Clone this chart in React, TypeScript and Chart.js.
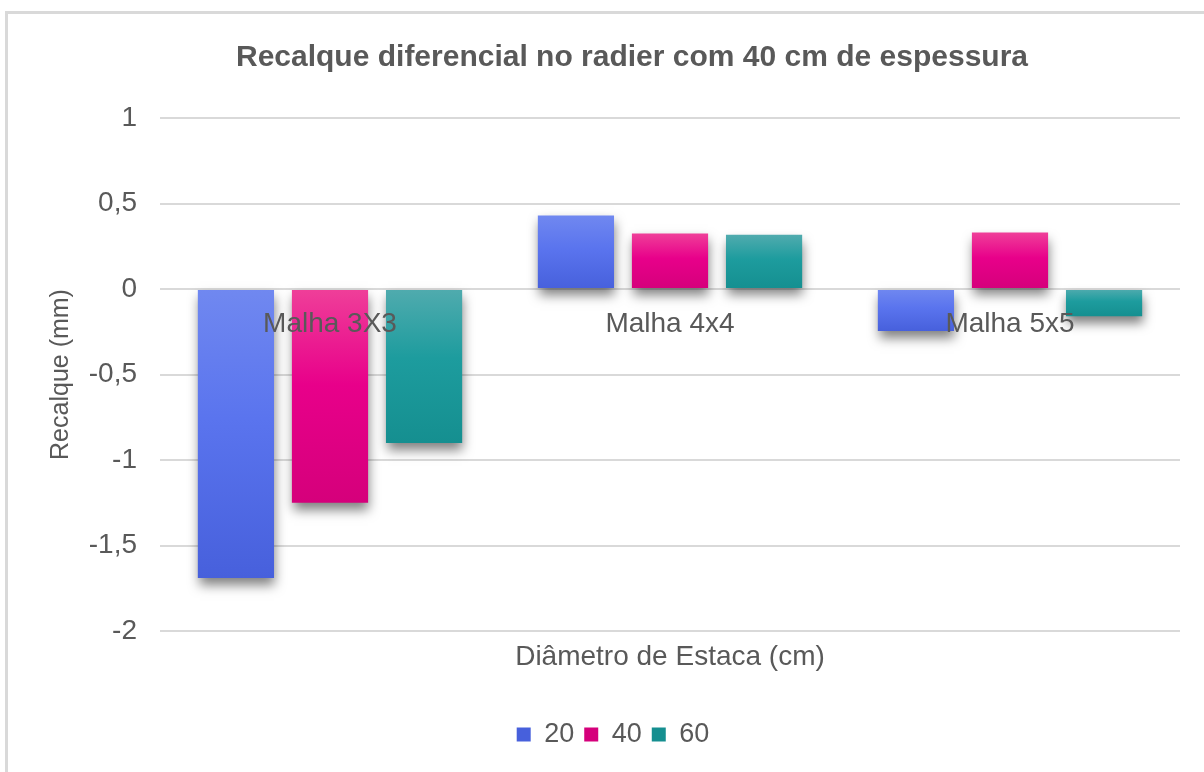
import React, { useEffect, useRef } from 'react';
import { Chart, registerables } from 'chart.js';

Chart.register(...registerables);

const categories = ['Malha 3X3', 'Malha 4x4', 'Malha 5x5'];
const seriesLabels = ['20', '40', '60'];
const series20 = [-1.69, 0.43, -0.245];
const series40 = [-1.25, 0.325, 0.33];
const series60 = [-0.9, 0.317, -0.16];
const yMin = -2;
const yMax = 1;
const yStep = 0.5;
const chartTitle = 'Recalque diferencial no radier com 40 cm de espessura';
const yTitle = 'Recalque (mm)';
const xTitle = 'Diâmetro de Estaca (cm)';

const FONT = '"Liberation Sans", Arial, sans-serif';
const TEXT = '#595959';

const palettes = [
  { top: '#7088f0', mid: '#5a74ee', bottom: '#4760dc' },
  { top: '#ef3f99', mid: '#e8008a', bottom: '#d5007b' },
  { top: '#50abae', mid: '#1d9c9e', bottom: '#158f90' },
];

const makeFill = (p: { top: string; mid: string; bottom: string }) => (ctx: any) => {
  if (ctx.type !== 'data') return p.mid;
  const chart = ctx.chart;
  const y = chart.scales && chart.scales.y;
  if (!chart.chartArea || !y) return p.mid;
  const v = ctx.raw as number;
  const a = y.getPixelForValue(Math.max(v, 0));
  const b = y.getPixelForValue(Math.min(v, 0));
  if (!isFinite(a) || !isFinite(b) || a === b) return p.mid;
  const g = chart.ctx.createLinearGradient(0, a, 0, b);
  g.addColorStop(0, p.top);
  g.addColorStop(0.45, p.mid);
  g.addColorStop(1, p.bottom);
  return g;
};

const decorPlugin = {
  id: 'decor',
  beforeDatasetsDraw(chart: any) {
    const c = chart.ctx;
    c.save();
    c.shadowColor = 'rgba(0,0,0,0.5)';
    c.shadowBlur = 11;
    c.shadowOffsetX = 1;
    c.shadowOffsetY = 7;
  },
  afterDatasetsDraw(chart: any) {
    const c = chart.ctx;
    c.restore();
    const xs = chart.scales.x;
    const ys = chart.scales.y;
    const y0 = ys.getPixelForValue(0);
    c.save();
    c.font = `28px ${FONT}`;
    c.fillStyle = TEXT;
    c.textAlign = 'center';
    c.textBaseline = 'alphabetic';
    categories.forEach((lab, i) => {
      c.fillText(lab, xs.getPixelForValue(i), y0 + 43);
    });
    c.restore();
  },
  afterDraw(chart: any) {
    const c = chart.ctx;
    c.save();
    c.font = `bold 30px ${FONT}`;
    c.fillStyle = TEXT;
    c.textAlign = 'center';
    c.textBaseline = 'alphabetic';
    c.fillText(chartTitle, 632, 66);
    c.restore();
  },
};

export default function App() {
  const ref = useRef<HTMLCanvasElement>(null);
  useEffect(() => {
    const values = [series20, series40, series60];
    const chart = new Chart(ref.current as HTMLCanvasElement, {
      type: 'bar',
      data: {
        labels: categories,
        datasets: seriesLabels.map((lab, i) => ({
          label: lab,
          data: values[i],
          backgroundColor: makeFill(palettes[i]),
          borderWidth: 0,
          barPercentage: 0.81,
          categoryPercentage: 0.83,
        })),
      },
      options: {
        responsive: false,
        animation: false,
        devicePixelRatio: 1,
        layout: { padding: { left: 46, right: 24, top: 118, bottom: 14 } },
        plugins: {
          title: { display: false },
          tooltip: { enabled: false },
          legend: {
            position: 'bottom',
            labels: {
              boxWidth: 14,
              boxHeight: 14,
              padding: 10,
              color: TEXT,
              font: { size: 27, family: FONT },
            },
          },
        },
        scales: {
          x: {
            grid: { display: false },
            border: { display: false },
            ticks: { display: false },
            title: {
              display: true,
              text: xTitle,
              color: TEXT,
              font: { size: 28, family: FONT },
              padding: { top: 0, bottom: 37 },
            },
            afterFit: (s: any) => {
              s.height = 80;
            },
          },
          y: {
            min: yMin,
            max: yMax,
            ticks: {
              stepSize: yStep,
              padding: 23,
              color: TEXT,
              font: { size: 28, family: FONT },
              callback: (v: any) => String(v).replace('.', ','),
            },
            grid: { color: '#d9d9d9', lineWidth: 2, drawTicks: false },
            border: { display: false },
            title: {
              display: true,
              text: yTitle,
              color: TEXT,
              font: { size: 25, family: FONT },
              padding: { top: 0, bottom: 0 },
            },
            afterFit: (s: any) => {
              s.width = 114;
            },
          },
        },
      },
      plugins: [decorPlugin],
    } as any);
    return () => chart.destroy();
  }, []);

  return (
    <div
      style={{
        position: 'fixed',
        left: 0,
        top: 0,
        width: 1204,
        height: 772,
        overflow: 'hidden',
        background: '#fff',
      }}
    >
      <div
        style={{
          position: 'absolute',
          left: 5,
          top: 11,
          width: 1260,
          height: 820,
          border: '3px solid #d9d9d9',
          boxSizing: 'border-box',
        }}
      />
      <canvas
        ref={ref}
        width={1204}
        height={772}
        style={{ position: 'absolute', left: 0, top: 0, width: 1204, height: 772 }}
      />
    </div>
  );
}
